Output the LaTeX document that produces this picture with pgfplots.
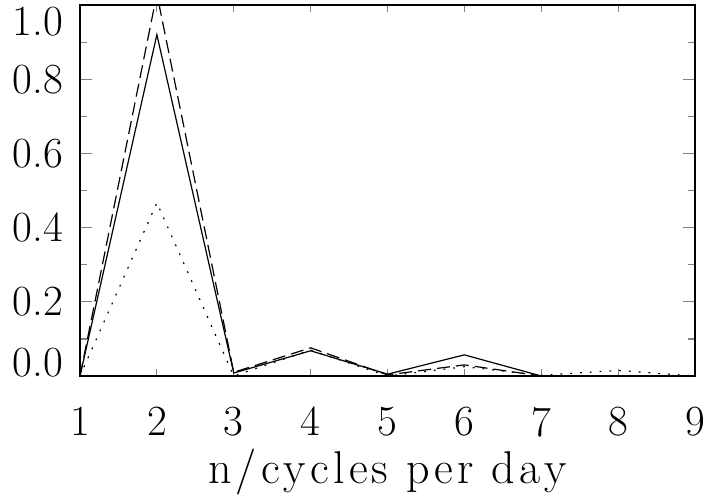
\documentclass[border=0pt]{standalone}
\usepackage{pgfplots}
\pgfplotsset{compat=1.18}
\newcommand{\ls}{\kern4.2pt}
\begin{document}
\begin{tikzpicture}
\begin{axis}[
  scale only axis,
  width=615pt, height=371pt,
  xmin=1, xmax=9, ymin=0, ymax=1.0,
  xtick={1,...,9},
  xticklabels={1,2,3,4,5,6,7,8,9},
  ytick={0,0.2,0.4,0.6,0.8,1.0},
  minor y tick num=1,
  tick align=inside,
  xtick style={line width=1.2pt, /pgfplots/major tick length=7pt},
  ytick style={line width=1.2pt},
  axis line style={line width=1.8pt},
  major tick length=12pt,
  minor tick length=7pt,
  ticklabel style={font=\fontsize{43}{43}\selectfont, inner sep=3.33pt},
  xticklabel shift=27.5pt,
  yticklabel shift=13.7pt,
  yticklabel={\ifcase\ticknum\smash{0.0}\or0.2\or0.4\or0.6\or0.8\or\smash{\raisebox{-30pt}{1.0}}\fi},
  xlabel={n\ls/\ls c\ls y\ls c\ls l\ls e\ls s\ls{} p\ls e\ls r\ls{} d\ls a\ls y},
  xlabel style={font=\fontsize{46}{46}\selectfont,
    at={(axis description cs:0.5,0)}, anchor=base, yshift=-107pt},
  clip=true,
]
\addplot[black, line width=1.2pt] coordinates {
(1,0) (2,0.92) (3,0.008) (4,0.068) (5,0.005) (6,0.057) (7,0.0) (8,0.0) (9,0.0)};
\addplot[black, line width=1.2pt, dash pattern=on 13pt off 6pt] coordinates {
(1,0) (2,1.03) (3,0.01) (4,0.076) (5,0.003) (6,0.03) (7,0.0) (8,0.0) (9,0.0)};
\addplot[black, line width=1.2pt, dash pattern=on 1.8pt off 8pt] coordinates {
(1,0) (2,0.467) (3,0.0) (4,0.07) (5,0.0) (6,0.025) (7,0.002) (8,0.015) (9,0.0)};
\end{axis}
\path ([xshift=-80pt,yshift=-118pt]current axis.south west) rectangle ([xshift=22pt,yshift=5pt]current axis.north east);
\end{tikzpicture}
\end{document}
